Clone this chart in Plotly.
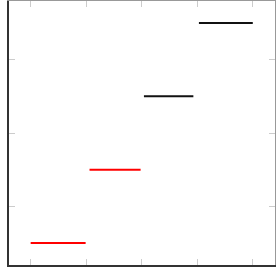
import plotly.graph_objects as go

# Data
x_start = [0.0, 1.06, 2.04, 3.03]
x_end = [0.99, 1.98, 2.93, 4.0]
values = [1, 2, 3, 4]
colors = ["#ff0000", "#ff0000", "#111111", "#111111"]
x_ticks = [0, 1, 2, 3, 4]
y_ticks = [1.5, 2.5, 3.5]

fig = go.Figure()
for xs, xe, v, c in zip(x_start, x_end, values, colors):
    fig.add_trace(go.Scatter(x=[xs, xe], y=[v, v], mode="lines",
                             line=dict(color=c, width=2), showlegend=False,
                             hoverinfo="skip"))

tick_common = dict(ticks="inside", ticklen=6, tickwidth=1, tickcolor="#cccccc",
                   showticklabels=False, showgrid=False, zeroline=False)

fig.update_layout(
    width=276, height=276,
    margin=dict(l=9, r=1, t=1, b=11),
    plot_bgcolor="white", paper_bgcolor="white",
    xaxis=dict(range=[-0.39, 4.4], tickvals=x_ticks, showline=True,
               linecolor="#333333", linewidth=1.5, **tick_common),
    yaxis=dict(range=[0.7, 4.3], tickvals=y_ticks, showline=True,
               linecolor="#333333", linewidth=1.5, **tick_common),
    xaxis2=dict(overlaying="x", side="top", range=[-0.39, 4.4],
                tickvals=x_ticks, showline=True, linecolor="#999999",
                linewidth=1, **tick_common),
    yaxis2=dict(overlaying="y", side="right", range=[0.7, 4.3],
                tickvals=y_ticks, showline=True, linecolor="#999999",
                linewidth=1, **tick_common),
)
fig.add_trace(go.Scatter(x=[None], y=[None], xaxis="x2", yaxis="y2",
                         showlegend=False, hoverinfo="skip"))

fig.write_html("out.html", config={"displayModeBar": False},
               post_script="document.body.style.margin='0';")
